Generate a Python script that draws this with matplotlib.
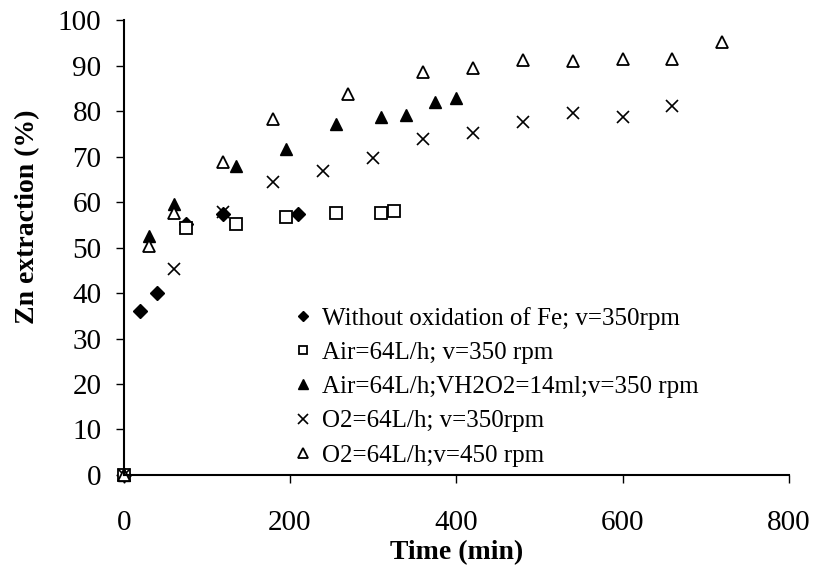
import numpy as np
import matplotlib.pyplot as plt

plt.rcParams['font.family'] = ['Liberation Serif', 'DejaVu Serif']

# Datos
t_sin = [0, 20, 40, 75, 120, 210]
zn_sin = [0, 36, 40, 55.2, 57.4, 57.4]

t_aire = [0, 75, 135, 195, 255, 310, 325]
zn_aire = [0, 54.3, 55.2, 56.8, 57.5, 57.6, 58.0]

t_h2o2 = [0, 30, 60, 135, 195, 255, 310, 340, 375, 400]
zn_h2o2 = [0, 52.5, 59.6, 68.0, 71.7, 77.1, 78.7, 79.1, 82.1, 82.8]

t_o2_350 = [0, 60, 120, 180, 240, 300, 360, 420, 480, 540, 600, 660]
zn_o2_350 = [0, 45.3, 57.9, 64.3, 66.8, 69.7, 73.8, 75.1, 77.5, 79.6, 78.8, 81.2]

t_o2_450 = [0, 30, 60, 120, 180, 270, 360, 420, 480, 540, 600, 660, 720]
zn_o2_450 = [0, 50.3, 57.6, 68.7, 78.2, 83.7, 88.6, 89.4, 91.3, 91.1, 91.4, 91.4, 95.2]

etiquetas = ['Without oxidation of Fe; v=350rpm',
             'Air=64L/h; v=350 rpm',
             'Air=64L/h;VH2O2=14ml;v=350 rpm',
             'O2=64L/h; v=350rpm',
             'O2=64L/h;v=450 rpm']

fig = plt.figure(figsize=(8.14, 5.74), dpi=100)
ax = fig.add_axes([0.152, 0.1725, 0.817, 0.7925])

ms = 8
ax.plot(t_sin, zn_sin, 'D', color='k', ms=ms - 1, label=etiquetas[0], clip_on=False)
ax.plot(t_aire, zn_aire, 's', mfc='white', mec='k', mew=1.3, ms=ms, label=etiquetas[1], clip_on=False)
ax.plot(t_h2o2, zn_h2o2, '^', color='k', ms=ms + 1, label=etiquetas[2], clip_on=False)
ax.plot(t_o2_350, zn_o2_350, 'x', color='k', mew=1.2, ms=ms + 1, label=etiquetas[3], clip_on=False)
ax.plot(t_o2_450, zn_o2_450, '^', mfc='white', mec='k', mew=1.3, ms=ms + 1, label=etiquetas[4], clip_on=False)

ax.set_xlim(0, 800)
ax.set_ylim(0, 100)
ax.set_xticks(np.arange(0, 801, 200))
ax.set_yticks(np.arange(0, 101, 10))
ax.spines['top'].set_visible(False)
ax.spines['right'].set_visible(False)
ax.spines['left'].set_linewidth(1.5)
ax.spines['bottom'].set_linewidth(1.5)
ax.tick_params(direction='out', length=6, width=1, labelsize=21)
ax.tick_params(axis='x', pad=19)
ax.tick_params(axis='y', pad=10)

ax.set_xlabel('Time (min)', fontsize=20, fontweight='bold', labelpad=3)
ax.set_ylabel('Zn extraction (%)', fontsize=20, fontweight='bold')
ax.yaxis.set_label_coords(-0.126, 0.567)

ax.legend(loc='upper left', bbox_to_anchor=(0.243, 0.392), frameon=False, fontsize=18,
          markerscale=0.75, handlelength=0.6, handletextpad=0.46, labelspacing=0.47,
          borderaxespad=0)

fig.savefig('out.png', dpi=100)
